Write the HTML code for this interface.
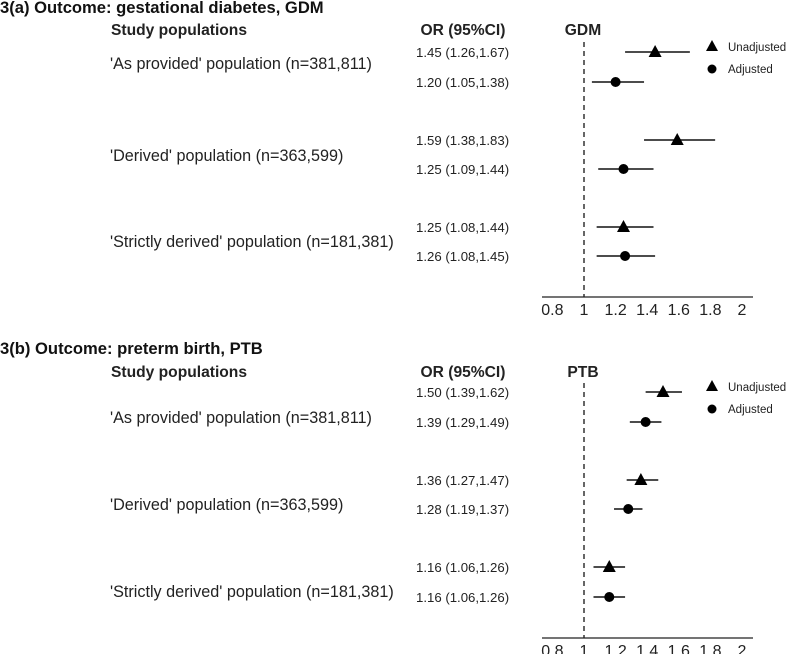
<!DOCTYPE html>
<html><head><meta charset="utf-8"><style>
body{margin:0;background:#fff;}
svg{display:block;font-family:"Liberation Sans",sans-serif;}
.t{font-weight:bold;font-size:16.6px;fill:#111}
.h{font-weight:bold;font-size:15.6px;fill:#222}
.l{font-size:16.2px;fill:#222}
.o{font-size:13.2px;fill:#222}
.g{font-size:11.5px;fill:#222}
.k{font-size:16px;fill:#222}
</style></head><body>
<svg id="c" width="787" height="654">
<text class="t" x="0" y="13">3(a) Outcome: gestational diabetes, GDM</text>
<text class="t" x="0" y="354">3(b) Outcome: preterm birth, PTB</text>
</svg>
<script>
const populations=["'As provided' population (n=381,811)","'Derived' population (n=363,599)","'Strictly derived' population (n=181,381)"];
const gdmEst=[1.45,1.20,1.59,1.25,1.25,1.26];
const gdmLo=[1.26,1.05,1.38,1.09,1.08,1.08];
const gdmHi=[1.67,1.38,1.83,1.44,1.44,1.45];
const ptbEst=[1.50,1.39,1.36,1.28,1.16,1.16];
const ptbLo=[1.39,1.29,1.27,1.19,1.06,1.06];
const ptbHi=[1.62,1.49,1.47,1.37,1.26,1.26];
const ticks=[0.8,1,1.2,1.4,1.6,1.8,2];
const tickLabels=["0.8","1","1.2","1.4","1.6","1.8","2"];
const svg=document.getElementById('c');
const NS='http://www.w3.org/2000/svg';
function mk(tag,attrs,text){const e=document.createElementNS(NS,tag);for(const k in attrs)e.setAttribute(k,attrs[k]);if(text!==undefined)e.textContent=text;svg.appendChild(e);return e;}
const xs=v=>584+(v-1)*158;
function fmt(v){return v.toFixed(2);}
function panel(p){
  let e;
  e=mk('text',{class:'h',x:111,y:p.hy+5},'Study populations');
  
  
  e=mk('text',{class:'h',x:463,y:p.hy+5,'text-anchor':'middle'},'OR (95%CI)');
  
  
  e=mk('text',{class:'h',x:583,y:p.hy+5,'text-anchor':'middle'},p.name);
  
  
  populations.forEach((s,i)=>{
    e=mk('text',{class:'l',x:110,y:p.ly[i]+6},s);
    
    
  });
  e=mk('line',{x1:584,x2:584,y1:p.d0,y2:p.ax,stroke:'#333','stroke-width':1.5,'stroke-dasharray':'5,4'});
  
  
  e=mk('line',{x1:542,x2:753,y1:p.ax,y2:p.ax,stroke:'#222','stroke-width':1.3});
  
  
  ticks.forEach((t,i)=>{
    e=mk('text',{class:'k',x:xs(t),y:p.ax+18,'text-anchor':'middle'},tickLabels[i]);
    
    
  });
  p.est.forEach((v,i)=>{
    const y=p.ry[i];
    e=mk('text',{class:'o',x:416,y:y+5},fmt(v)+' ('+fmt(p.lo[i])+','+fmt(p.hi[i])+')');
    
    
    e=mk('line',{x1:xs(p.lo[i]),x2:xs(p.hi[i]),y1:y,y2:y,stroke:'#111','stroke-width':1.4});
    
    
    const cx=xs(v);
    if(i%2===0){
      e=mk('polygon',{points:(cx-6.5)+','+(y+5)+' '+(cx+6.5)+','+(y+5)+' '+cx+','+(y-7),fill:'#000'});
      
    }else{
      e=mk('circle',{cx:cx,cy:y,r:5,fill:'#000'});
      
    }
    
  });
  e=mk('polygon',{points:(712-6)+','+(p.lg[0]+4)+' '+(712+6)+','+(p.lg[0]+4)+' 712,'+(p.lg[0]-7),fill:'#000'});
  
  
  e=mk('text',{class:'g',x:728,y:p.lg[0]+4},'Unadjusted');
  
  
  e=mk('circle',{cx:712,cy:p.lg[1],r:4.5,fill:'#000'});
  
  
  e=mk('text',{class:'g',x:728,y:p.lg[1]+4},'Adjusted');
  
  
}
panel({id:'gdm',name:'GDM',hy:30,ly:[63,155,241],ry:[52,82,140,169,227,256],d0:42,ax:297,lg:[47,69],est:gdmEst,lo:gdmLo,hi:gdmHi});
panel({id:'ptb',name:'PTB',hy:372,ly:[417,504,591],ry:[392,422,480,509,567,597],d0:383,ax:638,lg:[387,409],est:ptbEst,lo:ptbLo,hi:ptbHi});
</script>
</body></html>
